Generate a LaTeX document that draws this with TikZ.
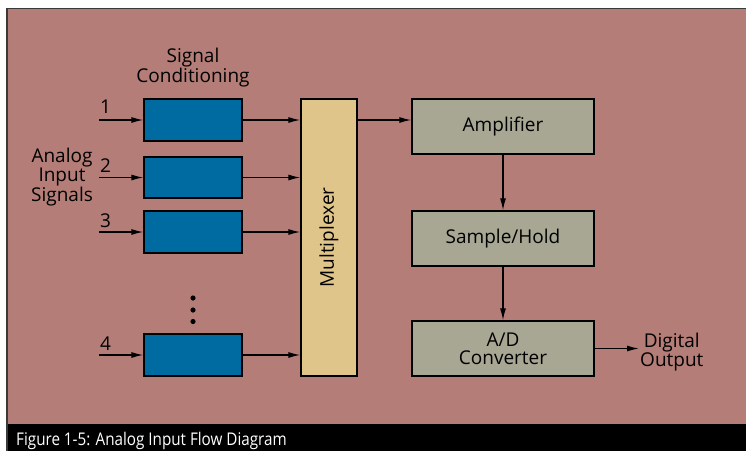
\documentclass[tikz,border=0pt]{standalone}
\usepackage{fontspec}
\usepackage{graphicx}
\newfontfamily\lab{Open Sans}
\usetikzlibrary{arrows.meta,positioning}
\definecolor{bgc}{HTML}{B47D77}
\definecolor{bluec}{HTML}{006BA1}
\definecolor{tanc}{HTML}{DFC589}
\definecolor{grayc}{HTML}{A8A794}
\definecolor{framec}{HTML}{3A3A3A}
\tikzset{
  txt/.style={font=\lab\fontsize{19}{18}\selectfont, text=black, align=center, inner sep=1pt},
  condbox/.style={draw=black, line width=1.3pt, fill=bluec, minimum width=98pt, minimum height=42pt, inner sep=0pt},
  muxbox/.style={draw=black, line width=1.3pt, fill=tanc, minimum width=56pt, minimum height=277pt, inner sep=0pt},
  procbox/.style={draw=black, line width=1.3pt, fill=grayc, minimum width=182pt, minimum height=55pt, inner sep=0pt, txt},
  arr/.style={draw=black, line width=1.3pt, -{Latex[length=12pt,width=6pt]}},
  numlab/.style={txt, anchor=base west, inner sep=0pt}
}
\begin{document}
\begin{tikzpicture}[x=1pt,y=-1pt]
\useasboundingbox (0,0) rectangle (746,451);
\fill[white] (0,0) rectangle (746,451);
\fill[bgc] (7,8) rectangle (746,424);
\fill[black] (7,424) rectangle (746,451);
\draw[framec, line width=1.6pt] (7,451) -- (7,8.3) -- (746,8.3);

% caption
\node[anchor=base west, inner sep=0pt, text=white, font=\lab\fontsize{17.5}{18}\selectfont] (cap) at (16,445) {\scalebox{0.87}[1]{Figure 1-5: Analog Input Flow Diagram}};

% labels
\node[txt] (sc) at (193,68) {Signal\\Conditioning};
\node[txt] (ais) at (62,177) {Analog\\Input\\Signals};

% conditioning boxes
\node[condbox] (b1) at (193,120) {};
\node[condbox, minimum height=41pt] (b2) at (193,177.5) {};
\node[condbox] (b3) at (193,232) {};
\node[condbox] (b4) at (193,355) {};

% input start points
\coordinate (i1) at (99,120);
\coordinate (i2) at (99,177.5);
\coordinate (i3) at (99,232);
\coordinate (i4) at (99,355);
\node[numlab] (n1) at (100,113) {1};
\node[numlab] (n2) at (100,172) {2};
\node[numlab] (n3) at (100,227) {3};
\node[numlab] (n4) at (100,350) {4};
\draw[arr] (i1) -- (b1.west);
\draw[arr] (i2) -- (b2.west);
\draw[arr] (i3) -- (b3.west);
\draw[arr] (i4) -- (b4.west);

% dots
\fill (193,298) circle (2.6);
\fill (193,310) circle (2.6);
\fill (193,321.5) circle (2.6);

% multiplexer
\node[muxbox] (mux) at (329,237.5) {};
\node[txt, rotate=90] (muxl) at (mux.center) {Multiplexer};
\draw[arr] (b1.east) -- (mux.west |- b1.east);
\draw[arr] (b2.east) -- (mux.west |- b2.east);
\draw[arr] (b3.east) -- (mux.west |- b3.east);
\draw[arr] (b4.east) -- (mux.west |- b4.east);

% processing chain
\node[procbox] (amp) at (503,126.5) {Amplifier};
\node[procbox] (sh) at (503,238.5) {Sample/Hold};
\node[procbox] (ad) at (503,348.5) {A/D\\Converter};
\node[txt, anchor=west] (out) at (639,352) {Digital\\Output};

\draw[arr] (mux.east |- b1.east) -- (amp.west |- b1.east);
\draw[arr] (amp.south) -- (sh.north);
\draw[arr] (sh.south) -- (ad.north);
\draw[arr] (ad.east) -- (out.west |- ad.east);
\end{tikzpicture}
\end{document}
